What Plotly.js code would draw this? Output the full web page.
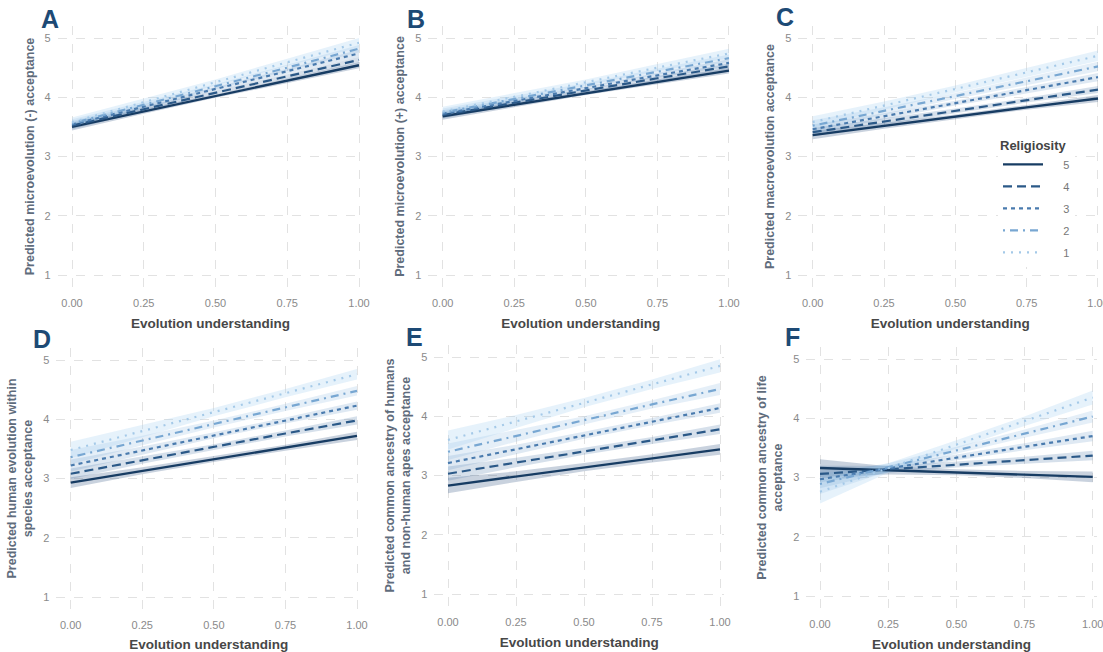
<!DOCTYPE html>
<html>
<head>
<meta charset="utf-8">
<script src="https://cdn.plot.ly/plotly-3.0.1.min.js"></script>
<style>html,body{margin:0;padding:0;background:#fff;}#chart{width:1103px;height:652px;}</style>
</head>
<body>
<div id="chart"></div>
<script>
// ---- data ----
const xUnderstanding = [0, 0.25, 0.5, 0.75, 1];
const religiosityLevels = ['5', '4', '3', '2', '1'];
const panelLetters = ['A', 'B', 'C', 'D', 'E', 'F'];
const yTitles = [
  'Predicted microevolution (-) acceptance',
  'Predicted microevolution (+) acceptance',
  'Predicted macroevolution acceptance',
  'Predicted human evolution within<br>species acceptance',
  'Predicted common ancestry of humans<br>and non-human apes acceptance',
  'Predicted common ancestry of life<br>acceptance'
];
const xTitle = 'Evolution understanding';
const xTickVals = [0, 0.25, 0.5, 0.75, 1];
const yTickVals = [1, 2, 3, 4, 5];

// predicted values, rows = religiosity 5,4,3,2,1
const fitA = [[3.50,3.76,4.02,4.28,4.54],[3.52,3.80,4.08,4.35,4.63],[3.54,3.84,4.14,4.44,4.74],[3.56,3.87,4.18,4.50,4.82],[3.58,3.92,4.25,4.59,4.92]];
const fitB = [[3.68,3.87,4.07,4.26,4.45],[3.70,3.91,4.11,4.32,4.52],[3.72,3.94,4.15,4.37,4.58],[3.74,3.97,4.20,4.43,4.66],[3.76,4.01,4.25,4.50,4.74]];
const fitC = [[3.36,3.52,3.67,3.83,3.98],[3.41,3.59,3.77,3.95,4.13],[3.46,3.68,3.90,4.12,4.34],[3.52,3.77,4.02,4.27,4.52],[3.58,3.86,4.14,4.42,4.70]];
const fitD = [[2.93,3.13,3.33,3.52,3.72],[3.08,3.31,3.53,3.76,3.98],[3.22,3.47,3.73,3.98,4.23],[3.36,3.64,3.92,4.20,4.48],[3.48,3.80,4.12,4.44,4.76]];
const fitE = [[2.83,2.98,3.14,3.29,3.44],[3.03,3.22,3.41,3.59,3.78],[3.21,3.44,3.68,3.91,4.14],[3.40,3.67,3.93,4.20,4.46],[3.60,3.91,4.23,4.54,4.85]];
const fitF = [[3.16,3.12,3.09,3.05,3.01],[3.06,3.14,3.22,3.29,3.37],[2.97,3.15,3.34,3.52,3.70],[2.89,3.17,3.46,3.74,4.03],[2.76,3.16,3.56,3.95,4.35]];

// confidence half-widths
const ciA = [[0.06,0.04,0.03,0.04,0.05],[0.06,0.04,0.03,0.04,0.05],[0.06,0.04,0.03,0.04,0.06],[0.07,0.05,0.04,0.05,0.06],[0.08,0.06,0.05,0.06,0.08]];
const ciB = [[0.06,0.04,0.03,0.04,0.05],[0.06,0.04,0.03,0.04,0.05],[0.06,0.04,0.03,0.04,0.06],[0.07,0.05,0.04,0.05,0.06],[0.08,0.06,0.05,0.06,0.08]];
const ciC = [[0.07,0.05,0.04,0.04,0.06],[0.07,0.05,0.04,0.04,0.06],[0.08,0.05,0.04,0.05,0.07],[0.09,0.06,0.05,0.06,0.08],[0.10,0.07,0.06,0.07,0.09]];
const ciD = [[0.09,0.06,0.05,0.05,0.07],[0.09,0.06,0.05,0.05,0.07],[0.10,0.07,0.05,0.05,0.07],[0.12,0.08,0.06,0.06,0.08],[0.14,0.10,0.07,0.07,0.09]];
const ciE = [[0.13,0.09,0.07,0.07,0.09],[0.12,0.08,0.06,0.06,0.08],[0.12,0.08,0.06,0.06,0.08],[0.14,0.10,0.07,0.07,0.10],[0.16,0.11,0.08,0.08,0.11]];
const ciF = [[0.15,0.07,0.05,0.06,0.09],[0.14,0.06,0.05,0.06,0.08],[0.15,0.06,0.05,0.06,0.09],[0.17,0.07,0.06,0.07,0.10],[0.20,0.08,0.07,0.08,0.12]];

// ---- styling ----
const lineColors = ['#173c63', '#2b5988', '#4a7bae', '#78a7d2', '#a4c9e8'];
const ribbonColors = ['rgba(60,95,135,0.28)', 'rgba(70,115,165,0.22)', 'rgba(95,145,195,0.2)', 'rgba(125,175,220,0.2)', 'rgba(165,208,242,0.28)'];
const dashes = ['solid', '9px,5px', '4px,4px', '2px,5px,8px,5px', '2px,6px'];
const widths = [2.4, 2.2, 2.2, 2.2, 2.2];

const W = 1103, H = 652;
// pixel anchors: x position of value 0 and 1, y position of value 5 and 1
const anchors = [
  {x0: 72, x1: 359, y5: 38, y1: 275},
  {x0: 442.7, x1: 729, y5: 38, y1: 275},
  {x0: 812.7, x1: 1098, y5: 38, y1: 275},
  {x0: 70.7, x1: 357, y5: 360, y1: 597},
  {x0: 448, x1: 720, y5: 357, y1: 594},
  {x0: 820, x1: 1092.7, y5: 359, y1: 596}
];
const letterPos = [[50, 19], [416, 19], [785, 17], [42, 339], [414, 337], [792, 337]];
const xRange = [-0.05, 1.015];
const yRange = [0.8, 5.2];

const fits = [fitA, fitB, fitC, fitD, fitE, fitF];
const cis = [ciA, ciB, ciC, ciD, ciE, ciF];

const traces = [];
const layout = {
  width: W, height: H,
  margin: {l: 0, r: 0, t: 0, b: 0},
  paper_bgcolor: '#ffffff', plot_bgcolor: '#ffffff',
  font: {family: 'Liberation Sans, Arial, sans-serif', color: '#555'},
  showlegend: true,
  legend: {
    x: 998 / W, y: 1 - 133 / H, xanchor: 'left', yanchor: 'top',
    bgcolor: '#ffffff', borderwidth: 0,
    title: {text: '<b>Religiosity</b>', font: {size: 13, color: '#444'}, side: 'top'},
    font: {size: 11, color: '#777'},
    traceorder: 'grouped', tracegroupgap: 3, itemwidth: 40
  },
  annotations: []
};

fits.forEach((fit, p) => {
  const a = anchors[p];
  const ux = a.x1 - a.x0, uy = (a.y1 - a.y5) / 4;
  const left = a.x0 + xRange[0] * ux, right = a.x0 + xRange[1] * ux;
  const top = a.y5 - (yRange[1] - 5) * uy, bottom = a.y1 + (1 - yRange[0]) * uy;
  const sfx = p === 0 ? '' : String(p + 1);
  const common = {
    showgrid: true, gridcolor: '#e2e2e2', griddash: 'dash', gridwidth: 1,
    zeroline: false, showline: false, ticks: '', fixedrange: true,
    tickfont: {size: 11, color: '#8a8a8a'}, ticklabeloverflow: 'allow'
  };
  layout['xaxis' + sfx] = Object.assign({}, common, {
    domain: [left / W, right / W], range: xRange, anchor: 'y' + sfx,
    tickvals: xTickVals, tickformat: '.2f', ticklabelstandoff: 8,
    title: {text: '<b>' + xTitle + '</b>', font: {size: 13.5, color: '#474747'}, standoff: 10}
  });
  layout['yaxis' + sfx] = Object.assign({}, common, {
    domain: [1 - bottom / H, 1 - top / H], range: yRange, anchor: 'x' + sfx,
    tickvals: yTickVals, ticklabelstandoff: 6,
    title: {text: '<b>' + yTitles[p] + '</b>', font: {size: 12.5, color: '#5f6c7c'}, standoff: 7}
  });
  layout.annotations.push({
    text: '<b>' + panelLetters[p] + '</b>', xref: 'paper', yref: 'paper',
    x: letterPos[p][0] / W, y: 1 - letterPos[p][1] / H, xanchor: 'center', yanchor: 'middle',
    showarrow: false, font: {size: 25, color: '#1d4a75', family: 'Liberation Sans, Arial, sans-serif'}
  });
  const ci = cis[p];
  // ribbons
  fit.forEach((row, k) => {
    const hi = row.map((v, i) => v + ci[k][i]);
    const lo = row.map((v, i) => v - ci[k][i]);
    traces.push({
      type: 'scatter', mode: 'lines', xaxis: 'x' + sfx, yaxis: 'y' + sfx,
      x: xUnderstanding.concat(xUnderstanding.slice().reverse()),
      y: hi.concat(lo.slice().reverse()),
      fill: 'toself', fillcolor: ribbonColors[k], line: {width: 0, color: 'rgba(0,0,0,0)'},
      hoverinfo: 'skip', showlegend: false
    });
  });
  // lines
  fit.forEach((row, k) => {
    traces.push({
      type: 'scatter', mode: 'lines', xaxis: 'x' + sfx, yaxis: 'y' + sfx,
      x: xUnderstanding, y: row, name: '\u00a0\u00a0\u00a0\u00a0\u00a0' + religiosityLevels[k],
      legendgroup: religiosityLevels[k], showlegend: p === 2,
      line: {color: lineColors[k], width: widths[k], dash: dashes[k]}
    });
  });
});

Plotly.newPlot('chart', traces, layout, {staticPlot: true, displayModeBar: false});
</script>
</body>
</html>
